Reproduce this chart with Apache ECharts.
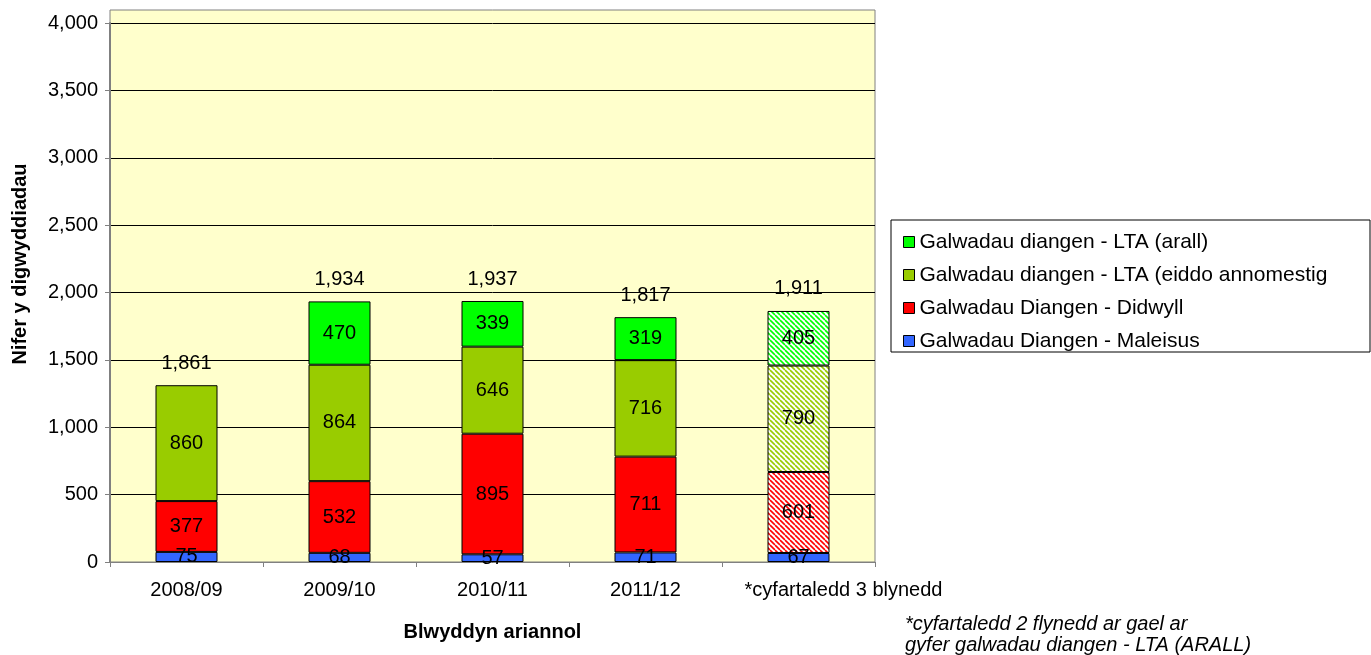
<!DOCTYPE html>
<html>
<head>
<meta charset="utf-8">
<script src="https://cdn.jsdelivr.net/npm/echarts@6/dist/echarts.min.js"></script>
<style>html,body{margin:0;padding:0;background:#fff}#c{width:1371px;height:655px}</style>
</head>
<body>
<div id="c"></div>
<script>
const categories = ['2008/09', '2009/10', '2010/11', '2011/12', '*cyfartaledd 3 blynedd'];
const maleisus = [75, 68, 57, 71, 67];
const didwyll = [377, 532, 895, 711, 601];
const eiddo = [860, 864, 646, 716, 790];
const arall = ['-', 470, 339, 319, 405];
const totalLabels = ['1,861', '1,934', '1,937', '1,817', '1,911'];
const seriesNames = [
  'Galwadau Diangen - Maleisus',
  'Galwadau Diangen - Didwyll',
  'Galwadau diangen - LTA (eiddo annomestig',
  'Galwadau diangen - LTA (arall)'
];
const yTicks = [0, 500, 1000, 1500, 2000, 2500, 3000, 3500, 4000];

const colors = ['#3366FF', '#FF0000', '#99CC00', '#00FF00'];
const FONT = '"Liberation Sans", Arial, sans-serif';
const FS = 20;

function hatch(color) {
  const s = 5;
  const cv = document.createElement('canvas');
  cv.width = s; cv.height = s;
  const ctx = cv.getContext('2d');
  ctx.fillStyle = '#ffffff';
  ctx.fillRect(0, 0, s, s);
  ctx.strokeStyle = color;
  ctx.lineWidth = 1.6;
  for (let k = -s; k <= s; k += s) {
    ctx.beginPath();
    ctx.moveTo(k, 0);
    ctx.lineTo(k + s, s);
    ctx.stroke();
  }
  return { image: cv, repeat: 'repeat' };
}

function buildData(vals, idx) {
  return vals.map((v, i) => {
    if (i === 4 && idx !== 0) {
      return { value: v, itemStyle: { color: hatch(colors[idx]) } };
    }
    return v;
  });
}

const valueArrays = [maleisus, didwyll, eiddo, arall];
const series = valueArrays.map((vals, idx) => ({
  name: seriesNames[idx],
  type: 'bar',
  stack: 'total',
  barWidth: 62,
  data: buildData(vals, idx),
  itemStyle: { color: colors[idx], borderColor: '#000', borderWidth: 1 },
  label: {
    show: true, position: 'inside', color: '#000',
    fontFamily: FONT, fontSize: FS
  }
}));
series.push({
  name: 'total',
  type: 'bar',
  stack: 'total',
  barWidth: 62,
  data: totalLabels.map(() => 0),
  itemStyle: { color: 'rgba(0,0,0,0)', borderWidth: 0 },
  label: {
    show: true, position: 'top', distance: 12, color: '#000',
    fontFamily: FONT, fontSize: FS,
    formatter: p => totalLabels[p.dataIndex]
  }
});

const xData = categories.map((c, i) =>
  i === categories.length - 1 ? { value: c, textStyle: { padding: [0, 0, 0, 90] } } : c
);

const chart = echarts.init(document.getElementById('c'));
chart.setOption({
  animation: false,
  backgroundColor: '#fff',
  textStyle: { fontFamily: FONT },
  grid: { left: 110, right: 496, top: 23, bottom: 93 },
  graphic: [
    {
      type: 'rect', z: -100,
      shape: { x: 110, y: 10, width: 765, height: 552 },
      style: { fill: '#FFFFCC', stroke: '#808080', lineWidth: 1 }
    },
    {
      type: 'rect', z: 100,
      shape: { x: 891, y: 220, width: 479, height: 132 },
      style: { fill: '#fff', stroke: '#000', lineWidth: 1 }
    },
    {
      type: 'text', z: 100, x: 20, y: 264, rotation: Math.PI / 2,
      style: {
        text: 'Nifer y digwyddiadau',
        font: 'bold 20px "Liberation Sans", Arial, sans-serif',
        fill: '#000', align: 'center', verticalAlign: 'middle'
      }
    },
    {
      type: 'text', z: 100, x: 905, y: 614,
      style: {
        text: '*cyfartaledd 2 flynedd ar gael ar\ngyfer galwadau diangen - LTA (ARALL)',
        font: 'italic 20px "Liberation Sans", Arial, sans-serif',
        fill: '#000', lineHeight: 21
      }
    }
  ],
  legend: {
    orient: 'vertical',
    left: 898, top: 226,
    z: 200,
    data: [seriesNames[3], seriesNames[2], seriesNames[1], seriesNames[0]],
    itemWidth: 11, itemHeight: 11, itemGap: 11,
    icon: 'rect',
    selectedMode: false,
    itemStyle: { borderColor: '#000', borderWidth: 1 },
    textStyle: { fontFamily: FONT, fontSize: 21, color: '#000', lineHeight: 22 }
  },
  xAxis: {
    type: 'category',
    data: xData,
    name: 'Blwyddyn ariannol',
    nameLocation: 'middle',
    nameGap: 60,
    nameTextStyle: { fontFamily: FONT, fontSize: FS, fontWeight: 'bold', color: '#000' },
    axisLine: { lineStyle: { color: '#808080', width: 1 } },
    axisTick: { show: true, length: 5, lineStyle: { color: '#808080' } },
    axisLabel: { color: '#000', fontFamily: FONT, fontSize: FS, margin: 18, interval: 0 }
  },
  yAxis: {
    type: 'value',
    min: yTicks[0], max: yTicks[yTicks.length - 1], interval: yTicks[1] - yTicks[0],
    axisLine: { show: true, lineStyle: { color: '#808080', width: 2 } },
    axisTick: { show: true, length: 5, lineStyle: { color: '#808080' } },
    axisLabel: {
      color: '#000', fontFamily: FONT, fontSize: FS, margin: 12,
      formatter: v => v.toLocaleString('en-US')
    },
    splitLine: { show: true, lineStyle: { color: '#000', width: 1 } }
  },
  series: series
});
</script>
</body>
</html>
